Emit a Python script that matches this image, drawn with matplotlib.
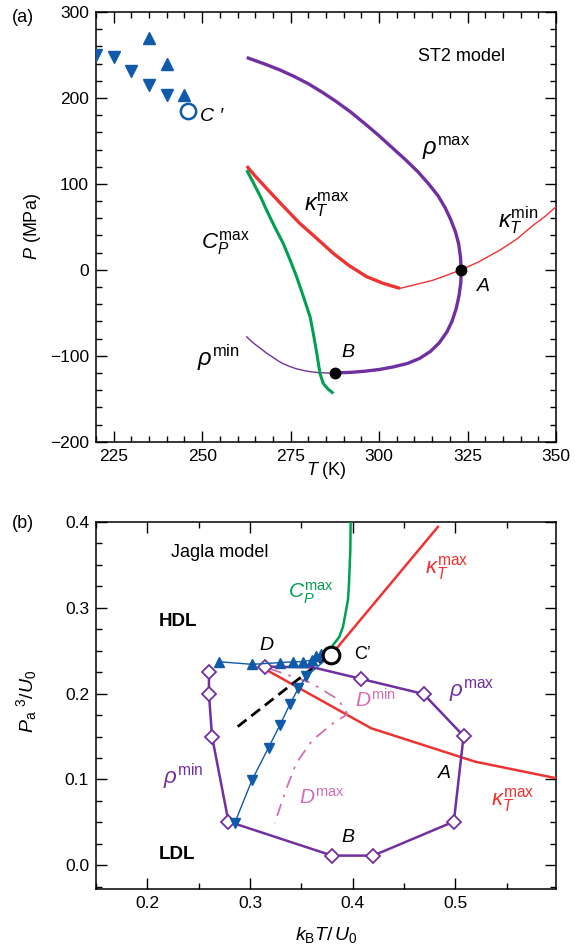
import matplotlib
matplotlib.use("Agg")
import matplotlib.pyplot as plt
from matplotlib.ticker import MultipleLocator

plt.rcParams['font.family'] = ['Liberation Sans', 'DejaVu Sans']
plt.rcParams['mathtext.fontset'] = 'custom'
plt.rcParams['mathtext.rm'] = 'Liberation Sans'
plt.rcParams['mathtext.it'] = 'Liberation Sans:italic'
plt.rcParams['mathtext.bf'] = 'Liberation Sans:bold'
plt.rcParams['font.size'] = 12.5

PURPLE = '#7030A0'
RED = '#EE3333'
GREEN = '#00A050'
BLUE = '#105AAA'
PINK = '#D26EB4'

# ---------------- Panel (a): ST2 model ----------------
st2_down_T = [220, 225, 230, 235, 240]
st2_down_P = [250, 248, 231, 215, 203]
st2_up_T = [235, 240, 245]
st2_up_P = [270, 240, 203]
st2_Cprime = (246, 185)

rho_max_T = [262.6, 268, 272, 276, 280, 284, 288, 292, 296, 300, 304, 307.5, 311, 314, 316.7, 318.7,
             320.3, 321.6, 322.5, 323, 323.2, 323.1, 322.6, 321.8, 320.6, 319.2, 317, 314.5, 311.5,
             308, 304, 300, 296, 292, 287.5]
rho_max_P = [247, 239, 232.5, 225, 216.5, 206.5, 195.5, 183.5, 170, 156, 141, 128, 114, 100, 86, 72,
             58, 44, 30, 15, 0, -15, -30, -45, -60, -72, -85, -95, -103,
             -109, -113, -116, -118, -119.3, -120]

rho_min_T = [262.6, 264, 265.5, 267, 268.2, 270, 271.5, 273, 274.8, 276.5, 278.5, 280.5, 282.8, 285, 287.5]
rho_min_P = [-78, -83.5, -88.5, -93, -97, -101.8, -106, -109.5, -112.5, -115, -117, -118.5, -119.6, -120, -120]

kT_max_T = [262.6, 265, 268.2, 272, 277.6, 282, 287.1, 291.5, 296.5, 301.2, 305.9]
kT_max_P = [120.7, 109, 94.8, 78, 54, 38, 19, 5, -8, -15.8, -21.6]

kT_min_T = [305.9, 310, 315.3, 319, 323.2, 328, 334.2, 339, 343.6, 347, 350]
kT_min_P = [-21.6, -17.5, -12, -6.5, 0, 9, 23, 36, 52, 62.5, 73.4]

cp_max_T = [262.6, 264.5, 266.5, 268.2, 270.5, 272.9, 274.8, 276.7, 278.6, 280.5, 281.5, 282.4, 283.3, 284.2, 285.5, 287.1]
cp_max_P = [116, 101, 85, 69.5, 50, 30.8, 12, -8.1, -31, -54.7, -76, -97.3, -120.6, -132, -138.5, -143.8]

point_A = (323.2, 0)
point_B = (287.5, -120)

# ---------------- Panel (b): Jagla model ----------------
jg_up_T = [0.270, 0.302, 0.329, 0.342, 0.352, 0.360, 0.3647, 0.3695]
jg_up_P = [0.237, 0.234, 0.236, 0.237, 0.237, 0.239, 0.2437, 0.246]
jg_down_T = [0.285, 0.302, 0.318, 0.329, 0.339, 0.347, 0.355]
jg_down_P = [0.049, 0.0995, 0.137, 0.163, 0.188, 0.206, 0.220]
jg_Cprime = (0.379, 0.2449)

jg_rho_T = [0.260, 0.260, 0.263, 0.279, 0.380, 0.420, 0.4985, 0.508, 0.469, 0.4084, 0.361, 0.3144]
jg_rho_P = [0.225, 0.1995, 0.150, 0.051, 0.0114, 0.0114, 0.051, 0.1506, 0.1995, 0.2170, 0.2306, 0.2313]
jg_rho_marked = [0, 1, 2, 3, 4, 5, 6, 7, 8, 9, 11]

jg_kT_up_T = [0.379, 0.483]
jg_kT_up_P = [0.2449, 0.394]
jg_kT_low_T = [0.316, 0.418, 0.519, 0.598]
jg_kT_low_P = [0.2275, 0.1596, 0.1208, 0.1015]

jg_cp_T = [0.379, 0.3808, 0.387, 0.3906, 0.393, 0.3954, 0.3964, 0.3977, 0.398]
jg_cp_P = [0.2449, 0.2565, 0.266, 0.278, 0.2934, 0.309, 0.328, 0.367, 0.40]

jg_D_T = [0.319, 0.36, 0.386, 0.395, 0.381, 0.361, 0.345, 0.335, 0.324]
jg_D_P = [0.229, 0.212, 0.193, 0.176, 0.1655, 0.146, 0.119, 0.088, 0.049]

jg_dash_T = [0.288, 0.372]
jg_dash_P = [0.1615, 0.240]

fig = plt.figure(figsize=(5.75, 9.49), dpi=100)
axa = fig.add_axes([96/575, 1-441.7/949, 460/575, 429.7/949])
axb = fig.add_axes([96/575, 1-888.6/949, 460/575, 366.9/949])

def style(ax):
    for s in ax.spines.values():
        s.set_linewidth(1.1)
    ax.tick_params(which='both', direction='in', top=True, right=True, width=1.0)
    ax.tick_params(which='major', length=8, labelsize=12.5, pad=5)
    ax.tick_params(which='minor', length=4.5)

# panel a
axa.plot(rho_max_T, rho_max_P, color=PURPLE, lw=2.4, solid_capstyle='butt', solid_joinstyle='round', zorder=3)
axa.plot(rho_min_T, rho_min_P, color=PURPLE, lw=1.0, zorder=3)
axa.plot(kT_max_T, kT_max_P, color=RED, lw=2.4, solid_capstyle='butt', solid_joinstyle='round', zorder=3)
axa.plot(kT_min_T, kT_min_P, color=RED, lw=1.0, zorder=3)
axa.plot(cp_max_T, cp_max_P, color=GREEN, lw=2.2, solid_capstyle='butt', solid_joinstyle='round', zorder=3)
axa.plot(st2_down_T, st2_down_P, 'v', color=BLUE, ms=8.5, mec=BLUE, ls='none', zorder=4)
axa.plot(st2_up_T, st2_up_P, '^', color=BLUE, ms=8.5, mec=BLUE, ls='none', zorder=4)
axa.plot([st2_Cprime[0]], [st2_Cprime[1]], 'o', ms=11, mfc='white', mec=BLUE, mew=1.8, zorder=5)
axa.plot([point_A[0], point_B[0]], [point_A[1], point_B[1]], 'o', color='black', ms=7.5, ls='none', zorder=6)

axa.set_xlim(220, 350)
axa.set_ylim(-200, 300)
axa.xaxis.set_major_locator(MultipleLocator(25))
axa.xaxis.set_minor_locator(MultipleLocator(5))
axa.yaxis.set_major_locator(MultipleLocator(100))
axa.yaxis.set_minor_locator(MultipleLocator(20))
axa.set_yticks([-200, -100, 0, 100, 200, 300])
axa.set_yticklabels(['\u2212200', '\u2212100', '0', '100', '200', '300'])
style(axa)
axa.text(-0.139, 0.5, r'$P$ (MPa)', transform=axa.transAxes, rotation=90, ha='center', va='center', fontsize=13)
axa.text(0.5, -0.068, r'$T$ (K)', transform=axa.transAxes, ha='center', va='center', fontsize=13)

axa.text(323.4, 248.8, 'ST2 model', ha='center', va='center', fontsize=13)
axa.text(318.9, 141.7, r'$\rho^{\rm max}$', ha='center', va='center', fontsize=17)
axa.text(285.3, 75.3, r'$\kappa_T^{\rm max}$', ha='center', va='center', fontsize=17)
axa.text(256.5, 31, r'$C_P^{\rm max}$', ha='center', va='center', fontsize=16)
axa.text(254.5, -103, r'$\rho^{\rm min}$', ha='center', va='center', fontsize=17)
axa.text(339.3, 58, r'$\kappa_T^{\rm min}$', ha='center', va='center', fontsize=17)
axa.text(329.4, -19.8, 'A', ha='center', va='center', fontsize=14, fontstyle='italic')
axa.text(291.2, -95.8, 'B', ha='center', va='center', fontsize=14, fontstyle='italic')
axa.text(252.7, 178, 'C \u2032', ha='center', va='center', fontsize=14, fontstyle='italic')

# panel b
axb.plot(jg_cp_T, jg_cp_P, color=GREEN, lw=1.8, zorder=3, clip_on=True)
axb.plot(jg_kT_up_T, jg_kT_up_P, color=RED, lw=1.8, zorder=3)
axb.plot(jg_kT_low_T, jg_kT_low_P, color=RED, lw=1.8, zorder=3)
axb.plot(jg_D_T, jg_D_P, color=PINK, lw=1.3, ls=(0, (7, 4, 1.5, 4)), zorder=3)
axb.plot(jg_dash_T, jg_dash_P, color='black', lw=2.0, ls=(0, (4, 2.2)), zorder=4)
axb.plot(jg_rho_T, jg_rho_P, color=PURPLE, lw=1.8, marker='D', ms=7, mfc='white', mec=PURPLE,
         mew=1.3, markevery=jg_rho_marked, zorder=5)
axb.plot(jg_up_T + [jg_Cprime[0]], jg_up_P + [jg_Cprime[1]], color=BLUE, lw=1.0, zorder=6)
axb.plot(jg_up_T, jg_up_P, '^', color=BLUE, ms=7.5, ls='none', zorder=6)
axb.plot(jg_down_T + [jg_Cprime[0]], jg_down_P + [jg_Cprime[1]], color=BLUE, lw=1.0, zorder=6)
axb.plot(jg_down_T, jg_down_P, 'v', color=BLUE, ms=7.5, ls='none', zorder=6)
axb.plot([jg_Cprime[0]], [jg_Cprime[1]], 'o', ms=12, mfc='white', mec='black', mew=2.2, zorder=7)

axb.set_xlim(0.15, 0.598)
axb.set_ylim(-0.027, 0.4)
axb.xaxis.set_major_locator(MultipleLocator(0.1))
axb.xaxis.set_minor_locator(MultipleLocator(0.05))
axb.yaxis.set_major_locator(MultipleLocator(0.1))
axb.yaxis.set_minor_locator(MultipleLocator(0.025))
axb.set_xticks([0.2, 0.3, 0.4, 0.5])
axb.set_xticklabels(['0.2', '0.3', '0.4', '0.5'])
axb.set_yticks([0.0, 0.1, 0.2, 0.3, 0.4])
axb.set_yticklabels(['0.0', '0.1', '0.2', '0.3', '0.4'])
style(axb)
axb.text(-0.152, 0.51, r'$P_{\rm a}$ $^{3}/U_0$', transform=axb.transAxes, rotation=90, ha='center', va='center', fontsize=14)
axb.text(0.5, -0.126, r'$k_{\rm B}T/\,U_0$', transform=axb.transAxes, ha='center', va='center', fontsize=14)

axb.text(0.2706, 0.3636, 'Jagla model', ha='center', va='center', fontsize=13)
axb.text(0.2298, 0.2833, 'HDL', ha='center', va='center', fontsize=13.5, fontweight='bold')
axb.text(0.2288, 0.0122, 'LDL', ha='center', va='center', fontsize=13.5, fontweight='bold')
axb.text(0.316, 0.2565, 'D', ha='center', va='center', fontsize=14, fontstyle='italic')
axb.text(0.4097, 0.245, 'C\u2019', ha='center', va='center', fontsize=13)
axb.text(0.359, 0.317, r'$C_P^{\rm max}$', ha='center', va='center', fontsize=15, color=GREEN)
axb.text(0.4914, 0.346, r'$\kappa_T^{\rm max}$', ha='center', va='center', fontsize=16, color=RED)
axb.text(0.5158, 0.204, r'$\rho^{\rm max}$', ha='center', va='center', fontsize=16, color=PURPLE)
axb.text(0.4224, 0.1925, r'$D^{\rm min}$', ha='center', va='center', fontsize=15, color=PINK)
axb.text(0.4895, 0.1074, 'A', ha='center', va='center', fontsize=14, fontstyle='italic')
axb.text(0.5557, 0.0762, r'$\kappa_T^{\rm max}$', ha='center', va='center', fontsize=16, color=RED)
axb.text(0.3698, 0.0786, r'$D^{\rm max}$', ha='center', va='center', fontsize=15, color=PINK)
axb.text(0.395, 0.0319, 'B', ha='center', va='center', fontsize=14, fontstyle='italic')
axb.text(0.2346, 0.103, r'$\rho^{\rm min}$', ha='center', va='center', fontsize=16, color=PURPLE)

fig.text(23/575, 1-17/949, '(a)', ha='center', va='center', fontsize=13)
fig.text(23/575, 1-524/949, '(b)', ha='center', va='center', fontsize=13)

fig.savefig('out.png', dpi=100)
